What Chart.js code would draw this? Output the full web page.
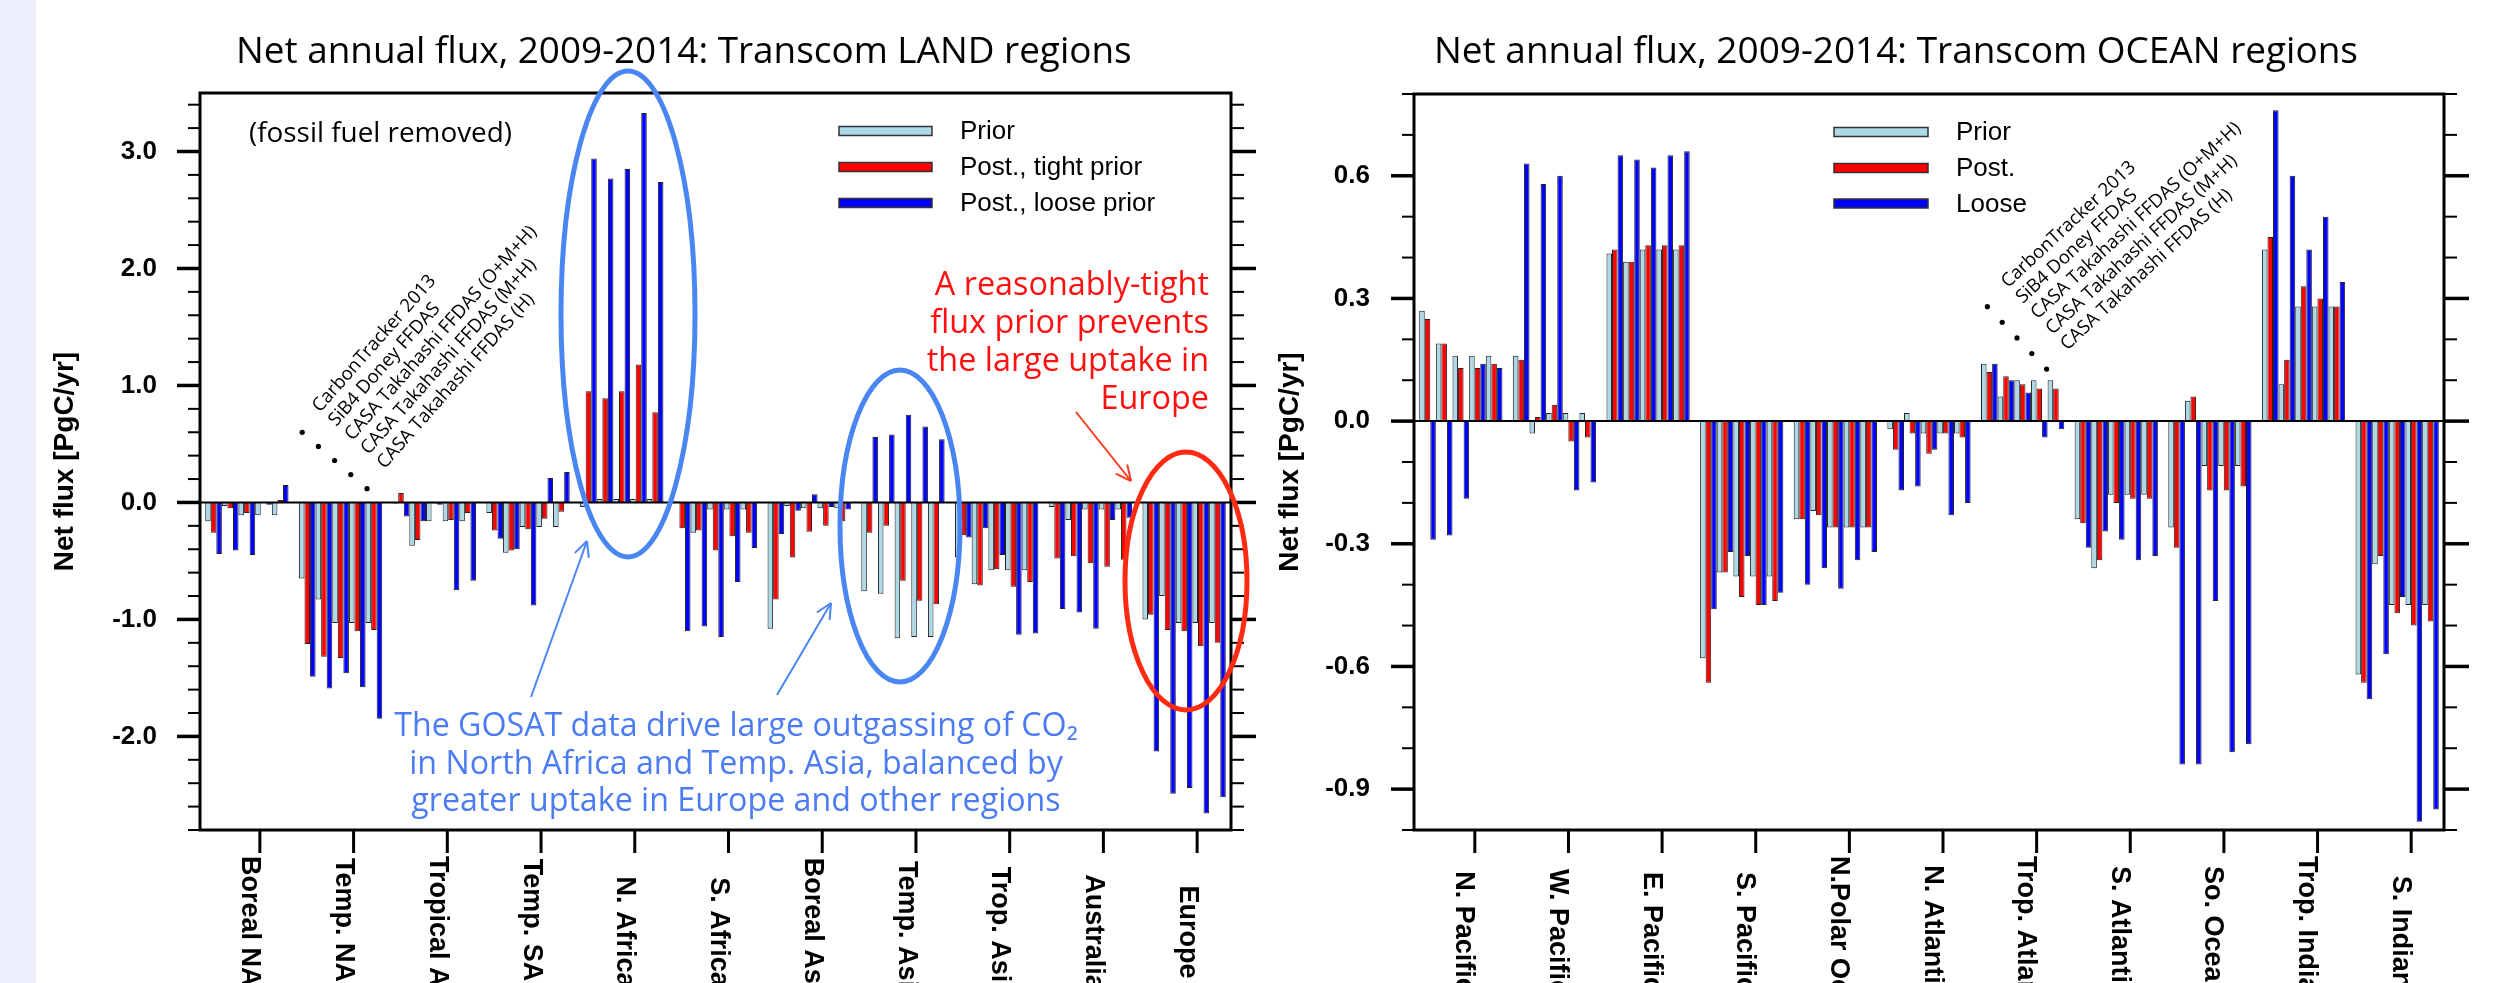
<!DOCTYPE html>
<html>
<head>
<meta charset="utf-8">
<title>Net annual flux, 2009-2014: Transcom regions</title>
<script src="https://cdn.jsdelivr.net/npm/chart.js@4.4.0/dist/chart.umd.min.js"></script>
<style>
  html, body { margin: 0; padding: 0; background: #fff; }
  body { width: 2502px; height: 983px; position: relative; overflow: hidden; }
  #strip { position: absolute; left: 0; top: 0; width: 36px; height: 983px; background: #eceefb; }
  #landChart { position: absolute; left: 0; top: 0; }
  #oceanChart { position: absolute; left: 1260px; top: 0; }
</style>
</head>
<body>
<div id="strip"></div>
<canvas id="landChart" width="1270" height="983"></canvas>
<canvas id="oceanChart" width="1242" height="983"></canvas>
<script>
// regions, models, legend names
const landRegions = ["Boreal NAm", "Temp. NAm", "Tropical Am", "Temp. SAm", "N. Africa", "S. Africa",
  "Boreal Asia", "Temp. Asia", "Trop. Asia", "Australia", "Europe"];
const oceanRegions = ["N. Pacific", "W. Pacific", "E. Pacific", "S. Pacific", "N.Polar Ocean", "N. Atlantic",
  "Trop. Atlantic", "S. Atlantic", "So. Ocean", "Trop. Indian", "S. Indian"];
const models = ["CarbonTracker 2013", "SiB4 Doney FFDAS", "CASA Takahashi FFDAS (O+M+H)",
  "CASA Takahashi FFDAS (M+H)", "CASA Takahashi FFDAS (H)"];
const landLegend = ["Prior", "Post., tight prior", "Post., loose prior"];
const oceanLegend = ["Prior", "Post.", "Loose"];

// one row per region, one value per model (PgC/yr)
const landPrior = [
  [-0.16, -0.03, -0.11, -0.11, -0.11],
  [-0.65, -0.83, -1.03, -1.03, -1.03],
  [-0.01, -0.37, -0.16, -0.16, -0.16],
  [-0.09, -0.43, -0.21, -0.21, -0.21],
  [-0.04, 0.03, 0.03, 0.03, 0.03],
  [0.01, -0.26, -0.06, -0.06, -0.06],
  [-1.08, -0.03, -0.05, -0.05, -0.05],
  [-0.76, -0.78, -1.16, -1.15, -1.15],
  [-0.47, -0.70, -0.58, -0.58, -0.58],
  [-0.04, -0.15, -0.06, -0.06, -0.06],
  [-1.00, -0.80, -1.03, -1.03, -1.03]
];
const landTight = [
  [-0.26, -0.05, -0.09, 0.00, 0.02],
  [-1.21, -1.32, -1.33, -1.10, -1.09],
  [0.08, -0.32, -0.01, -0.15, -0.09],
  [-0.24, -0.41, -0.23, -0.14, -0.08],
  [0.95, 0.89, 0.95, 1.18, 0.77],
  [-0.22, -0.24, -0.41, -0.29, -0.26],
  [-0.83, -0.47, -0.25, -0.20, -0.16],
  [-0.26, -0.20, -0.67, -0.84, -0.87],
  [-0.28, -0.71, -0.57, -0.72, -0.68],
  [-0.48, -0.46, -0.52, -0.55, -0.49],
  [-0.96, -1.09, -1.10, -1.23, -1.20]
];
const landLoose = [
  [-0.44, -0.41, -0.45, -0.02, 0.15],
  [-1.49, -1.59, -1.46, -1.58, -1.85],
  [-0.12, -0.16, -0.02, -0.75, -0.67],
  [-0.31, -0.40, -0.88, 0.21, 0.26],
  [2.94, 2.77, 2.85, 3.33, 2.74],
  [-1.10, -1.06, -1.15, -0.68, -0.39],
  [-0.27, -0.07, 0.07, -0.04, -0.06],
  [0.56, 0.58, 0.75, 0.65, 0.54],
  [-0.30, -0.22, -0.45, -1.13, -1.12],
  [-0.91, -0.94, -1.08, -0.15, -0.13],
  [-2.13, -2.49, -2.44, -2.66, -2.52]
];

const oceanPrior = [
  [0.27, 0.19, 0.16, 0.16, 0.16],
  [0.16, -0.03, 0.02, 0.02, 0.02],
  [0.41, 0.39, 0.42, 0.42, 0.42],
  [-0.58, -0.37, -0.38, -0.38, -0.38],
  [-0.24, -0.22, -0.26, -0.26, -0.26],
  [-0.02, 0.02, -0.03, -0.03, -0.03],
  [0.14, 0.06, 0.10, 0.10, 0.10],
  [-0.24, -0.36, -0.18, -0.18, -0.18],
  [-0.26, 0.05, -0.11, -0.11, -0.11],
  [0.42, 0.09, 0.28, 0.28, 0.28],
  [-0.62, -0.35, -0.45, -0.45, -0.45]
];
const oceanPost = [
  [0.25, 0.19, 0.13, 0.13, 0.14],
  [0.15, 0.01, 0.04, -0.05, -0.04],
  [0.42, 0.39, 0.43, 0.43, 0.43],
  [-0.64, -0.37, -0.43, -0.45, -0.44],
  [-0.24, -0.23, -0.26, -0.26, -0.26],
  [-0.07, -0.03, -0.08, -0.03, -0.04],
  [0.12, 0.11, 0.09, 0.08, 0.08],
  [-0.25, -0.34, -0.20, -0.19, -0.19],
  [-0.31, 0.06, -0.17, -0.17, -0.16],
  [0.45, 0.15, 0.33, 0.30, 0.28],
  [-0.64, -0.33, -0.47, -0.50, -0.49]
];
const oceanLoose = [
  [-0.29, -0.28, -0.19, 0.14, 0.13],
  [0.63, 0.58, 0.60, -0.17, -0.15],
  [0.65, 0.64, 0.62, 0.65, 0.66],
  [-0.46, -0.32, -0.33, -0.45, -0.42],
  [-0.40, -0.36, -0.41, -0.34, -0.32],
  [-0.17, -0.16, -0.07, -0.23, -0.20],
  [0.14, 0.10, 0.07, -0.04, -0.02],
  [-0.31, -0.27, -0.29, -0.34, -0.33],
  [-0.84, -0.84, -0.44, -0.81, -0.79],
  [0.76, 0.60, 0.42, 0.50, 0.34],
  [-0.68, -0.57, -0.43, -0.98, -0.95]
];

const landTicks = [-2.0, -1.0, 0.0, 1.0, 2.0, 3.0];
const oceanTicks = [-0.9, -0.6, -0.3, 0.0, 0.3, 0.6];

const barColors = ["#add8e6", "#ff0000", "#0000ff"];
const comic = '"Comic Sans MS", "Open Sans", sans-serif';
const helv = '"Liberation Sans", Arial, sans-serif';

// font size that makes text span the given width
function fitSize(ctx, text, width, family) {
  ctx.font = "100px " + family;
  return 100 * width / ctx.measureText(text).width;
}

function line(ctx, x1, y1, x2, y2) {
  ctx.beginPath(); ctx.moveTo(x1, y1); ctx.lineTo(x2, y2); ctx.stroke();
}

function arrow(ctx, a) {
  ctx.strokeStyle = a.color; ctx.lineWidth = 2;
  line(ctx, a.x1, a.y1, a.x2, a.y2);
  const ang = Math.atan2(a.y2 - a.y1, a.x2 - a.x1);
  for (const s of [-1, 1]) {
    const t = ang + Math.PI - s * 0.45;
    line(ctx, a.x2, a.y2, a.x2 + 17 * Math.cos(t), a.y2 + 17 * Math.sin(t));
  }
}

// axes box, zero line, tick marks, rotated region names
const frame = {
  id: "frame",
  afterDatasetsDraw(chart, args, o) {
    const ctx = chart.ctx, a = chart.chartArea, x = chart.scales.x, y = chart.scales.y;
    ctx.save();
    ctx.strokeStyle = "#000";
    ctx.lineWidth = 2;
    line(ctx, a.left, y.getPixelForValue(0), a.right, y.getPixelForValue(0));
    ctx.lineWidth = 3;
    ctx.strokeRect(a.left, a.top, a.right - a.left, a.bottom - a.top);
    // minor ticks
    ctx.lineWidth = 2;
    const n = Math.round((o.minorTo - o.minorFrom) / o.minorStep);
    for (let k = 0; k <= n; k++) {
      const py = y.getPixelForValue(o.minorFrom + k * o.minorStep);
      line(ctx, a.left - 12, py, a.left, py);
      line(ctx, a.right, py, a.right + 13, py);
    }
    // major ticks
    ctx.lineWidth = 3.5;
    for (const v of o.majors) {
      const py = y.getPixelForValue(v);
      line(ctx, a.left - 23, py, a.left, py);
      line(ctx, a.right, py, a.right + 25, py);
    }
    ctx.lineWidth = 3;
    ctx.font = "bold 27px " + helv;
    chart.data.labels.forEach((lab, i) => {
      const px = x.getPixelForValue(i);
      line(ctx, px + o.tickShift, a.bottom, px + o.tickShift, a.bottom + 23);
      const w = ctx.measureText(lab).width;
      const start = Math.max(o.labelY - w / 2, a.bottom + 26);
      ctx.save();
      ctx.translate(px + o.labelShift, start);
      ctx.rotate(Math.PI / 2);
      ctx.fillStyle = "#000";
      ctx.textAlign = "left";
      ctx.textBaseline = "middle";
      ctx.fillText(lab, 0, 0);
      ctx.restore();
    });
    ctx.restore();
  }
};

// titles, legend and hand-made notes
const notes = {
  id: "notes",
  afterDraw(chart, args, o) {
    const ctx = chart.ctx;
    ctx.save();
    ctx.translate(-o.dx, 0);
    ctx.fillStyle = "#000";
    ctx.textBaseline = "alphabetic";
    ctx.textAlign = "left";
    ctx.font = fitSize(ctx, o.title.text, o.title.width, comic) + "px " + comic;
    ctx.fillText(o.title.text, o.title.x, o.title.y);

    // legend
    const lg = o.legend;
    lg.labels.forEach((lab, i) => {
      const cy = lg.ys[i];
      ctx.fillStyle = barColors[i];
      ctx.fillRect(lg.x0, cy - 4.5, lg.x1 - lg.x0, 9);
      ctx.strokeStyle = "#333"; ctx.lineWidth = 1.5;
      ctx.strokeRect(lg.x0, cy - 4.5, lg.x1 - lg.x0, 9);
      ctx.fillStyle = "#000";
      ctx.font = "26px " + helv;
      ctx.textBaseline = "middle";
      ctx.fillText(lab, lg.textX, cy + 1);
    });
    ctx.textBaseline = "alphabetic";

    // model names, slanted
    const mx = o.modelX, my = o.modelY;
    ctx.font = fitSize(ctx, models[0], o.modelWidth, comic) + "px " + comic;
    for (let i = 0; i < models.length; i++) {
      const tx = mx + i * o.modelStep[0], ty = my + i * o.modelStep[1];
      ctx.fillStyle = "#000";
      ctx.beginPath();
      ctx.arc(tx + o.modelDot[0], ty + o.modelDot[1], 2.6, 0, Math.PI * 2);
      ctx.fill();
      ctx.save();
      ctx.translate(tx, ty);
      ctx.rotate(-o.modelAngle * Math.PI / 180);
      ctx.textAlign = "left";
      ctx.fillText(models[i], 0, 0);
      ctx.restore();
    }

    for (const e of o.ellipses || []) {
      ctx.strokeStyle = e.color; ctx.lineWidth = 5;
      ctx.beginPath();
      ctx.ellipse(e.cx, e.cy, e.rx, e.ry, 0, 0, Math.PI * 2);
      ctx.stroke();
    }
    for (const a of o.arrows || []) arrow(ctx, a);
    for (const t of o.texts || []) {
      ctx.fillStyle = t.color;
      ctx.textAlign = t.align;
      ctx.font = fitSize(ctx, t.lines[t.fitLine], t.fitWidth, comic) + "px " + comic;
      t.lines.forEach((ln, i) => ctx.fillText(ln, t.x, t.y + i * t.gap));
    }
    ctx.restore();
  }
};

function buildSets(prior, post, loose) {
  const sets = [];
  models.forEach((name, m) => {
    [prior, post, loose].forEach((rows, k) => {
      sets.push({
        label: name + " " + k,
        data: rows.map(r => r[m]),
        backgroundColor: barColors[k],
        borderColor: "#222",
        borderWidth: 1,
        categoryPercentage: 0.889,
        barPercentage: 1.0
      });
    });
  });
  return sets;
}

function yAxis(min, max, ticks, width, pad, titlePad) {
  return {
    min: min, max: max,
    afterFit(s) { s.width = width; },
    afterBuildTicks(s) { s.ticks = ticks.map(v => ({ value: v })); },
    grid: { display: false, drawTicks: false },
    border: { display: false },
    ticks: {
      padding: pad, color: "#000",
      font: { family: helv, size: 26, weight: "bold" },
      callback: v => v.toFixed(1)
    },
    title: {
      display: true, text: "Net flux [PgC/yr]", color: "#000",
      font: { family: helv, size: 28, weight: "bold" }, padding: { top: titlePad, bottom: 0 }
    }
  };
}

new Chart(document.getElementById("landChart"), {
  type: "bar",
  data: { labels: landRegions, datasets: buildSets(landPrior, landTight, landLoose) },
  options: {
    responsive: false, animation: false,
    layout: { padding: { left: 0, top: 93, right: 39, bottom: 153 } },
    scales: {
      x: { type: "category", display: false, offset: true },
      y: yAxis(-2.8, 3.5, landTicks, 200, 43, 48)
    },
    plugins: {
      legend: { display: false }, tooltip: { enabled: false },
      frame: { minorFrom: -2.8, minorTo: 3.4, minorStep: 0.2, majors: landTicks,
        tickShift: 13, labelShift: 3, labelY: 932 },
      notes: {
        dx: 0,
        title: { text: "Net annual flux, 2009-2014: Transcom LAND regions", x: 236, y: 63, width: 896 },
        legend: { labels: landLegend, x0: 839, x1: 932, textX: 960, ys: [131, 167, 203] },
        modelX: 320, modelY: 413, modelStep: [16.2, 14.1], modelDot: [-17.8, 19.3], modelAngle: 48.5, modelWidth: 176,
        ellipses: [
          { cx: 628, cy: 314, rx: 67, ry: 243, color: "#4a86f2" },
          { cx: 900, cy: 526, rx: 60, ry: 156, color: "#4a86f2" },
          { cx: 1186, cy: 581, rx: 61, ry: 129, color: "#ff2a12" }
        ],
        arrows: [
          { x1: 531, y1: 697, x2: 587, y2: 541, color: "#4a86f2" },
          { x1: 777, y1: 695, x2: 831, y2: 603, color: "#4a86f2" },
          { x1: 1076, y1: 412, x2: 1131, y2: 481, color: "#ff3b1f" }
        ],
        texts: [
          { lines: ["(fossil fuel removed)"], x: 249, y: 142, gap: 0, align: "left",
            color: "#000", fitLine: 0, fitWidth: 263 },
          { lines: ["The GOSAT data drive large outgassing of CO\u2082",
                    "in North Africa and Temp. Asia, balanced by",
                    "greater uptake in Europe and other regions"],
            x: 736, y: 736, gap: 37.5, align: "center", color: "#4b7cf3", fitLine: 1, fitWidth: 654 },
          { lines: ["A reasonably-tight", "flux prior prevents", "the large uptake in", "Europe"],
            x: 1209, y: 295, gap: 38, align: "right", color: "#ff1010", fitLine: 1, fitWidth: 279 }
        ]
      }
    }
  },
  plugins: [frame, notes]
});

new Chart(document.getElementById("oceanChart"), {
  type: "bar",
  data: { labels: oceanRegions, datasets: buildSets(oceanPrior, oceanPost, oceanLoose) },
  options: {
    responsive: false, animation: false,
    layout: { padding: { left: 0, top: 94, right: 58, bottom: 153 } },
    scales: {
      x: { type: "category", display: false, offset: true },
      y: yAxis(-1.0, 0.8, oceanTicks, 154, 44, 13)
    },
    plugins: {
      legend: { display: false }, tooltip: { enabled: false },
      frame: { minorFrom: -1.0, minorTo: 0.8, minorStep: 0.1, majors: oceanTicks,
        tickShift: 14, labelShift: 3, labelY: 932 },
      notes: {
        dx: 1260,
        title: { text: "Net annual flux, 2009-2014: Transcom OCEAN regions", x: 1434, y: 63, width: 924 },
        legend: { labels: oceanLegend, x0: 1834, x1: 1928, textX: 1956, ys: [132, 168, 203.5] },
        modelX: 2008, modelY: 288.5, modelStep: [14.8, 15.6], modelDot: [-20.6, 18.2], modelAngle: 43, modelWidth: 176
      }
    }
  },
  plugins: [frame, notes]
});
</script>
</body>
</html>
